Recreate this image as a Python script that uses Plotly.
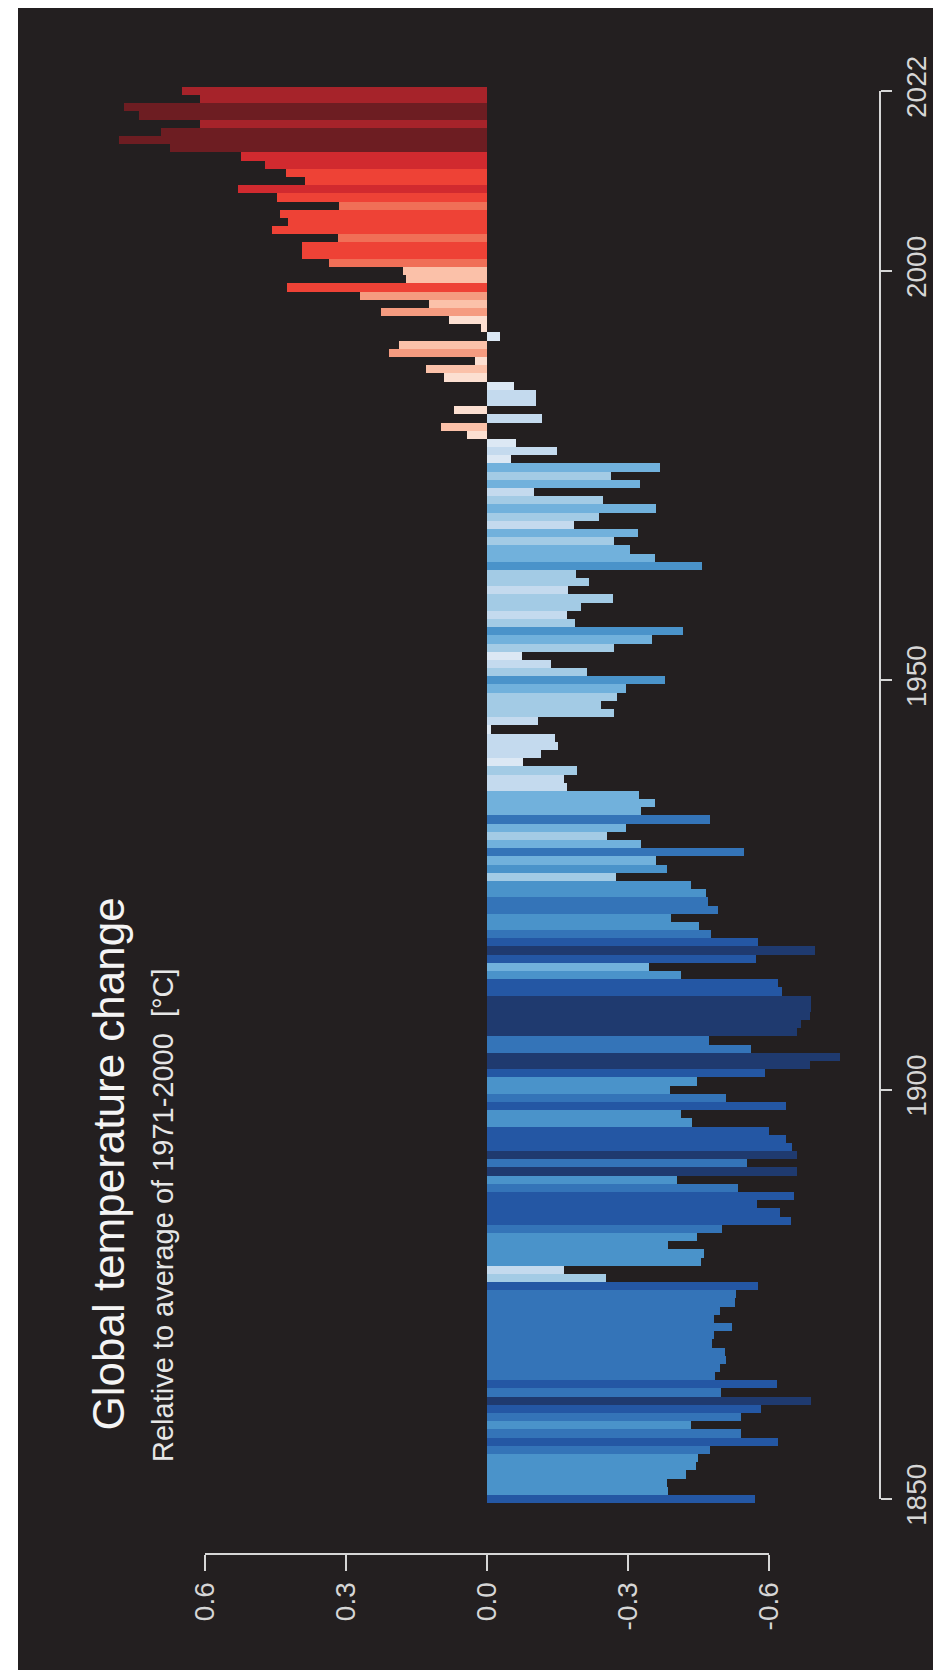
import plotly.graph_objects as go

# ---- data ----
years = list(range(1850, 2023))
anomaly = [
    -0.570, -0.385, -0.384, -0.424, -0.445, -0.449, -0.474, -0.620, -0.541, -0.435,  # 1850-1859
    -0.541, -0.582, -0.690, -0.497, -0.618, -0.486, -0.495, -0.509, -0.506, -0.478,  # 1860-1869
    -0.482, -0.522, -0.482, -0.495, -0.527, -0.529, -0.577, -0.254, -0.164, -0.456,  # 1870-1879
    -0.462, -0.385, -0.447, -0.499, -0.646, -0.624, -0.575, -0.653, -0.533, -0.404,  # 1880-1889
    -0.660, -0.554, -0.660, -0.648, -0.637, -0.601, -0.436, -0.413, -0.637, -0.509,  # 1890-1899
    -0.389, -0.447, -0.591, -0.687, -0.750, -0.561, -0.472, -0.660, -0.669, -0.687,  # 1900-1909
    -0.690, -0.690, -0.628, -0.619, -0.413, -0.345, -0.573, -0.697, -0.577, -0.477,  # 1910-1919
    -0.451, -0.392, -0.491, -0.470, -0.465, -0.435, -0.275, -0.382, -0.359, -0.546,  # 1920-1929
    -0.328, -0.256, -0.296, -0.475, -0.327, -0.357, -0.323, -0.170, -0.164, -0.192,  # 1930-1939
    -0.077, -0.114, -0.150, -0.145, -0.009, -0.109, -0.270, -0.243, -0.277, -0.296,  # 1940-1949
    -0.379, -0.213, -0.137, -0.074, -0.270, -0.350, -0.416, -0.188, -0.170, -0.199,  # 1950-1959
    -0.268, -0.172, -0.216, -0.190, -0.458, -0.357, -0.304, -0.270, -0.321, -0.185,  # 1960-1969
    -0.238, -0.359, -0.247, -0.101, -0.325, -0.264, -0.369, -0.050, -0.148, -0.061,  # 1970-1979
    0.043, 0.097, -0.117, 0.071, -0.105, -0.105, -0.057, 0.091, 0.129, 0.026,        # 1980-1989
    0.209, 0.187, -0.027, 0.012, 0.081, 0.225, 0.124, 0.271, 0.426, 0.173,           # 1990-1999
    0.179, 0.337, 0.393, 0.393, 0.317, 0.457, 0.423, 0.441, 0.315, 0.446,            # 2000-2009
    0.530, 0.387, 0.427, 0.473, 0.523, 0.674, 0.782, 0.694, 0.611, 0.740,            # 2010-2019
    0.772, 0.611, 0.650,                                                              # 2020-2022
]
value_ticks = [0.6, 0.3, 0.0, -0.3, -0.6]
value_ticktext = ["0.6", "0.3", "0.0", "-0.3", "-0.6"]
year_ticks = [1850, 1900, 1950, 2000, 2022]
year_ticktext = ["1850", "1900", "1950", "2000", "2022"]
title_text = "Global temperature change"
subtitle_text = "Relative to average of 1971-2000  [°C]"

# ---- styling ----
BG = "#231f20"
AX = "#d6d6d6"
FONT = "Liberation Sans, Arial, Helvetica, sans-serif"
blues = ["#dce8f4", "#c4daee", "#a3cbe5", "#71b1dc", "#4a93ca", "#3474b8", "#2457a4", "#1f3a6f"]
reds = ["#fcdfd1", "#fbc1a9", "#f59b80", "#f06f57", "#ee4236", "#d12a2f", "#a6232a", "#6d1d22"]
STEP = 0.094


def color_for(v):
    k = min(int(abs(v) / STEP), 7)
    return reds[k] if v >= 0 else blues[k]


colors = [color_for(v) for v in anomaly]

W, H = 941, 1670

fig = go.Figure()
fig.add_trace(go.Bar(
    x=anomaly, y=years, orientation="h", width=1,
    marker=dict(color=colors, line=dict(width=0)),
    hoverinfo="x+y", showlegend=False,
))
# empty trace to register the axis-only subplot
fig.add_trace(go.Scatter(x=[], y=[], xaxis="x2", yaxis="y2", showlegend=False))

# pixel geometry of the reference
zero_px, px_per_deg = 479.0, 470.0
y1850_px, px_per_year = 1491.0, 8.186

fig.update_layout(
    template="none",
    width=W, height=H,
    margin=dict(l=0, r=0, t=0, b=0, pad=0, autoexpand=False),
    paper_bgcolor="white",
    plot_bgcolor="rgba(0,0,0,0)",
    bargap=0,
    showlegend=False,
    font=dict(family=FONT, color=AX),
    xaxis=dict(
        domain=[0, 1], automargin=False,
        range=[zero_px / px_per_deg, (zero_px - W) / px_per_deg],
        visible=False, showgrid=False, zeroline=False, fixedrange=True,
    ),
    yaxis=dict(
        domain=[0, 1], automargin=False,
        range=[1850 - (H - y1850_px) / px_per_year, 1850 + y1850_px / px_per_year],
        visible=False, showgrid=False, zeroline=False, fixedrange=True,
    ),
    xaxis2=dict(
        domain=[196.7 / W, 760.7 / W], automargin=False,
        range=[0.6, -0.6],
        anchor="free", position=1 - 1546 / H, side="bottom",
        showline=True, linecolor=AX, linewidth=2,
        ticks="outside", ticklen=16, tickwidth=2, tickcolor=AX,
        tickvals=value_ticks, ticktext=value_ticktext,
        tickangle=-90, tickfont=dict(size=28, color=AX, family=FONT),
        showgrid=False, zeroline=False, fixedrange=True,
    ),
    yaxis2=dict(
        domain=[1 - y1850_px / H, 1 - 83 / H], automargin=False,
        range=[1850, 2022],
        anchor="free", position=872 / W, side="right",
        showline=True, linecolor=AX, linewidth=2,
        ticks="outside", ticklen=11, tickwidth=2, tickcolor=AX,
        tickvals=year_ticks, ticktext=year_ticktext,
        tickangle=-90, tickfont=dict(size=28, color=AX, family=FONT),
        showgrid=False, zeroline=False, fixedrange=True,
    ),
    shapes=[dict(
        type="rect", xref="paper", yref="paper",
        x0=10 / W, x1=1, y0=1 - 1662 / H, y1=1,
        fillcolor=BG, line=dict(width=0), layer="below",
    )],
    annotations=[
        dict(text=title_text, xref="paper", yref="paper",
             x=100 / W, y=1 - 1425 / H, xanchor="center", yanchor="bottom",
             textangle=-90, showarrow=False,
             font=dict(size=44, color="#f4f4f4", family=FONT)),
        dict(text=subtitle_text, xref="paper", yref="paper",
             x=155 / W, y=1 - 1456 / H, xanchor="center", yanchor="bottom",
             textangle=-90, showarrow=False,
             font=dict(size=29, color="#e6e6e6", family=FONT)),
    ],
)

fig.write_html("out.html")
